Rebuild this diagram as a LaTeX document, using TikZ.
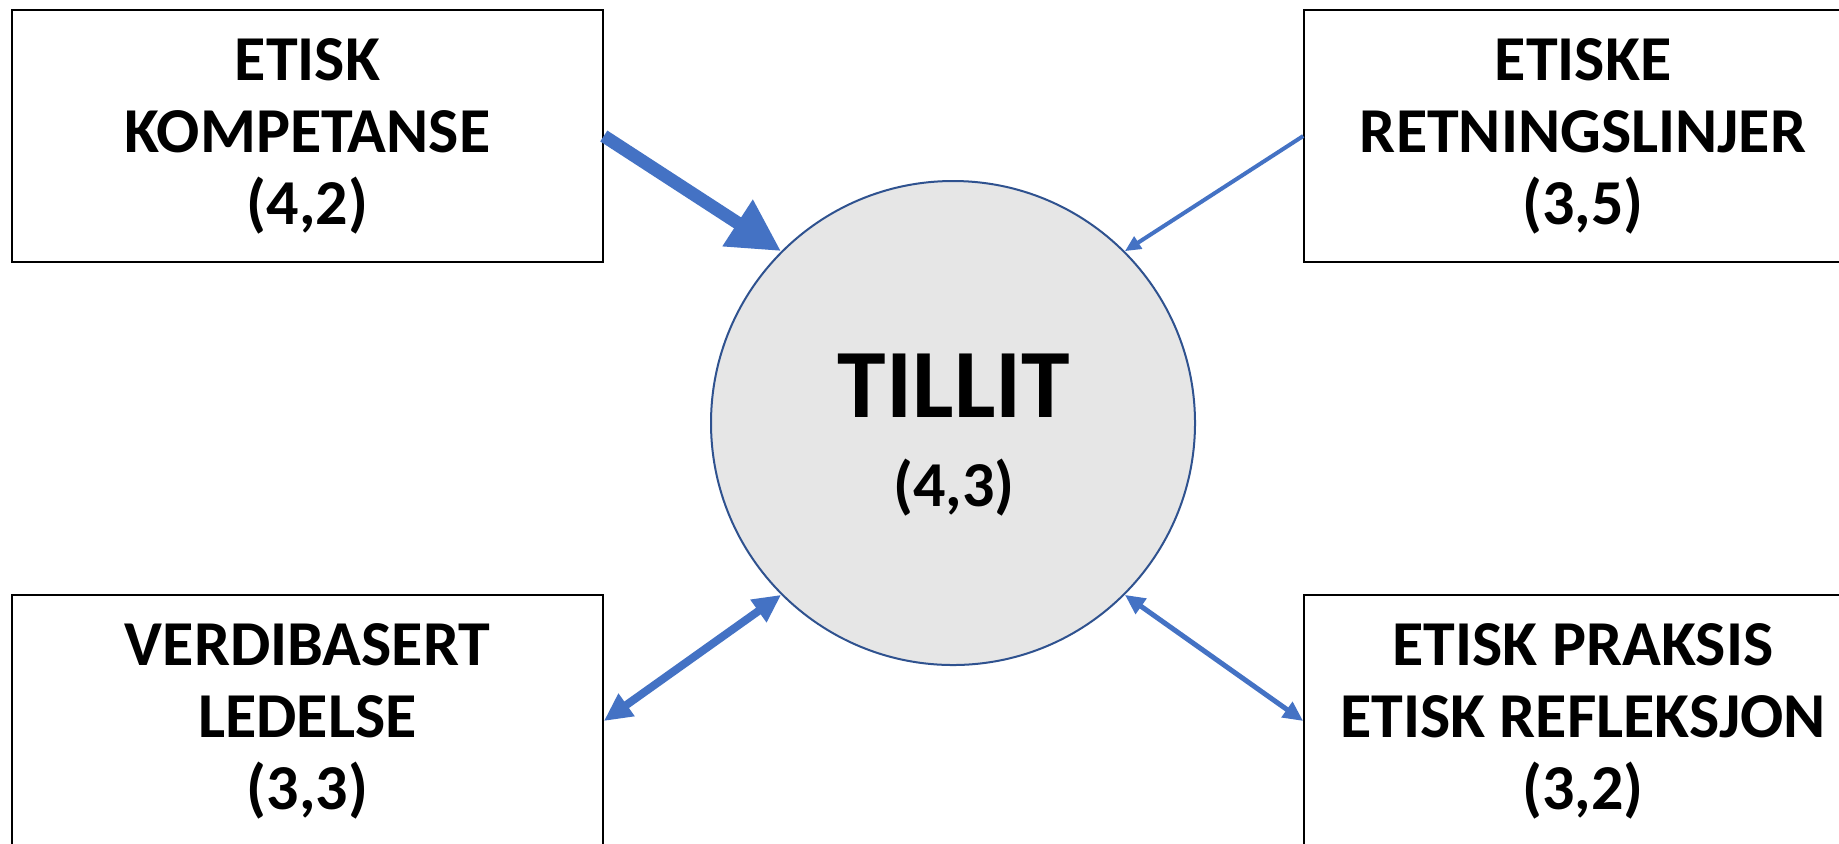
\documentclass[tikz,border=0pt]{standalone}
\usepackage{fontspec}
\setmainfont{Carlito}
\usetikzlibrary{%
  positioning,
  arrows.meta,
}

\definecolor{arrowblue}{HTML}{4472C4}
\definecolor{ringblue}{HTML}{2F528F}
\definecolor{hubgray}{HTML}{E6E6E6}

\begin{document}
\begin{tikzpicture}[
    x=0.5pt, y=-0.5pt,
    every text node part/.style={align=center},
    factor/.style={
      % The shape:
      rectangle,
      % The size:
      minimum width=295.5pt,
      minimum height=126pt,
      % The border:
      draw=black,
      line width=0.8pt,
      fill=white,
      % The text:
      font=\bfseries\fontsize{32}{36}\selectfont,
    },
    hub/.style={
      circle,
      minimum size=242pt,
      inner sep=0pt,
      draw=ringblue,
      line width=1pt,
      fill=hubgray,
    },
    link/.style={
      color=arrowblue,
    }]

    \clip (0,0) rectangle (1839,843);
    \fill[white] (0,0) rectangle (1839,843);

    \node[hub] (tillit) at (953,423) {};
    \node[font=\bfseries\fontsize{49}{52}\selectfont] (tillitname) at (954,386) {TILLIT};
    \node[font=\bfseries\fontsize{32}{36}\selectfont] (tillitscore) at (954,488) {(4,3)};

    \node[factor] (kompetanse) at (307.5,136) {ETISK \\ KOMPETANSE \\ (4,2)};
    \node[factor, minimum width=279pt] (retningslinjer) at (1583,136) {ETISKE \\ RETNINGSLINJER \\ (3,5)};
    \node[factor] (ledelse) at (307.5,721) {VERDIBASERT \\ LEDELSE \\ (3,3)};
    \node[factor, minimum width=279pt] (praksis) at (1583,721) {ETISK PRAKSIS \\ ETISK REFLEKSJON \\ (3,2)};

    \draw[link, line width=6.5pt, -{Triangle[length=26pt, width=26pt]}]
          (kompetanse.east) -- (tillit.135);
    \draw[link, line width=2pt, -{Triangle[length=8pt, width=7pt]}]
          (retningslinjer.west) -- (tillit.45);
    \draw[link, line width=4pt, {Triangle[length=14pt, width=13pt]}-{Triangle[length=14pt, width=13pt]}]
          (ledelse.east) -- (tillit.225);
    \draw[link, line width=2.5pt, {Triangle[length=10pt, width=9pt]}-{Triangle[length=10pt, width=9pt]}]
          (tillit.315) -- (praksis.west);
  \end{tikzpicture}
\end{document}
